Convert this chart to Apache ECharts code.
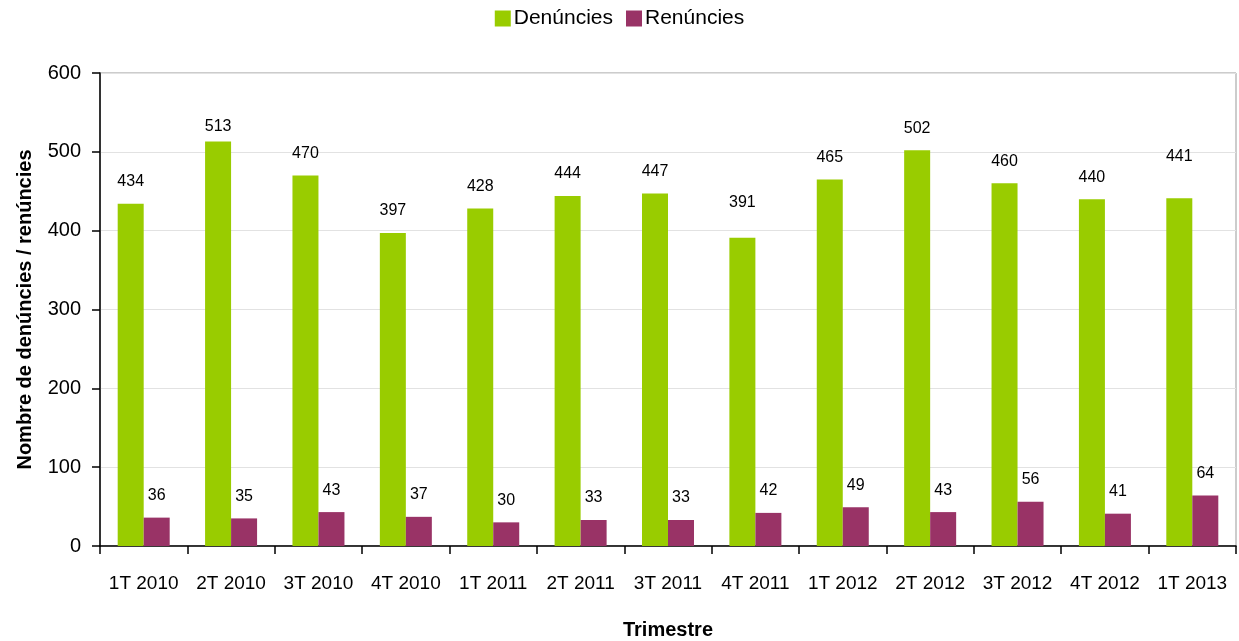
<!DOCTYPE html>
<html>
<head>
<meta charset="utf-8">
<script src="https://cdn.jsdelivr.net/npm/echarts@6/dist/echarts.min.js"></script>
<style>html,body{margin:0;padding:0;background:#fff}#c{width:1239px;height:641px}</style>
</head>
<body>
<div id="c"></div>
<script>
var categories = ['1T 2010','2T 2010','3T 2010','4T 2010','1T 2011','2T 2011','3T 2011','4T 2011','1T 2012','2T 2012','3T 2012','4T 2012','1T 2013'];
var denuncies = [434, 513, 470, 397, 428, 444, 447, 391, 465, 502, 460, 440, 441];
var renuncies = [36, 35, 43, 37, 30, 33, 33, 42, 49, 43, 56, 41, 64];
var seriesNames = ['Denúncies', 'Renúncies'];
var yTitle = 'Nombre de denúncies / renúncies';
var xTitle = 'Trimestre';

var FONT = "'Liberation Sans', Arial, sans-serif";
// manual label nudges (vertical pixel offsets) as in the reference
var denNudge = {1: 7, 7: -13, 12: -20};

function withNudge(arr, nudge) {
  return arr.map(function (v, i) {
    if (nudge[i] === undefined) return v;
    return {value: v, label: {offset: [0, nudge[i]]}};
  });
}

var chart = echarts.init(document.getElementById('c'), null, {renderer: 'canvas'});
var labelStyle = {show: true, position: 'top', distance: 14, color: '#000', fontFamily: FONT, fontSize: 16};
chart.setOption({
  animation: false,
  textStyle: {fontFamily: FONT},
  legend: {
    top: 3, left: 'center', itemWidth: 16, itemHeight: 16, itemGap: 13, icon: 'rect',
    textStyle: {fontFamily: FONT, fontSize: 21, color: '#000', padding: [0, 0, 0, -2]},
    data: seriesNames
  },
  grid: {left: 100, right: 3, top: 73, bottom: 95, outerBoundsMode: 'none', containLabel: false,
         show: true, borderColor: '#999', borderWidth: 1},
  xAxis: {
    type: 'category', data: categories,
    name: xTitle, nameLocation: 'middle', nameGap: 74,
    nameTextStyle: {fontFamily: FONT, fontSize: 20, fontWeight: 'bold', color: '#000'},
    axisLine: {lineStyle: {color: '#000', width: 1.5}},
    axisTick: {show: true, length: 8, lineStyle: {color: '#000', width: 1.5}},
    axisLabel: {color: '#000', fontFamily: FONT, fontSize: 19, margin: 28, interval: 0}
  },
  yAxis: {
    type: 'value', min: 0, max: 600, interval: 100,
    name: yTitle, nameLocation: 'middle', nameGap: 65,
    nameTextStyle: {fontFamily: FONT, fontSize: 20, fontWeight: 'bold', color: '#000'},
    axisLine: {show: true, lineStyle: {color: '#000', width: 1.5}},
    axisTick: {show: true, length: 8, lineStyle: {color: '#000', width: 1.5}},
    axisLabel: {color: '#000', fontFamily: FONT, fontSize: 20, margin: 19},
    splitLine: {show: true, lineStyle: {color: '#e2e2e2', width: 1}}
  },
  series: [
    {name: seriesNames[0], type: 'bar', data: withNudge(denuncies, denNudge), barWidth: 26, barGap: '0%',
     itemStyle: {color: '#99CC00'}, label: labelStyle},
    {name: seriesNames[1], type: 'bar', data: renuncies, barWidth: 26, barGap: '0%',
     itemStyle: {color: '#993366'}, label: labelStyle}
  ]
});
</script>
</body>
</html>
